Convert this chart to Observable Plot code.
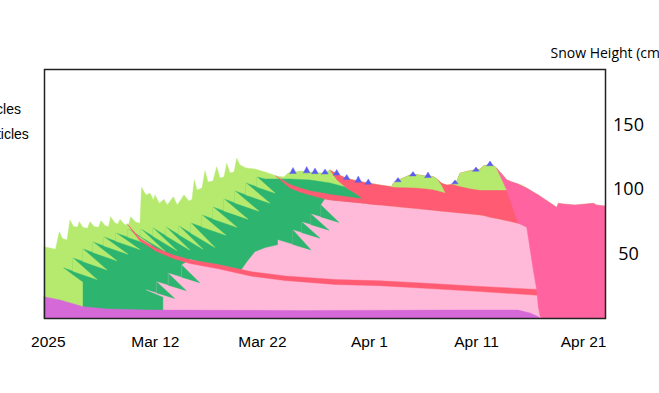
<!DOCTYPE html>
<html><head><meta charset="utf-8">
<script src="https://cdn.jsdelivr.net/npm/d3@7"></script>
<script src="https://cdn.jsdelivr.net/npm/@observablehq/plot@0.6"></script>
<style>
html,body{margin:0;padding:0;background:#fff;overflow:hidden;}
#chart svg{display:block;background:#fff;}
</style></head>
<body><div id="chart"></div>
<script>
// ---- Data: days since 2025-03-01 (UTC), heights in cm ----
const xTickDates = ["2025-03-02","2025-03-12","2025-03-22","2025-04-01","2025-04-11","2025-04-21"];
const xTickLabels = ["2025","Mar 12","Mar 22","Apr 1","Apr 11","Apr 21"];
const yTicks = [50,100,150];
const legendLabels = ["Precipitation particles","Decomposing and fragmented precipitation particles"];
const yTitle = "Snow Height (cm)";

// snow surface (total snow height)
const surfDay = [0.645,1.205,1.719,2.074,2.373,2.793,3.073,3.400,3.774,3.942,4.288,4.708,4.941,5.315,5.735,5.969,6.343,6.669,6.875,7.277,7.557,7.744,8.164,8.538,8.743,9.192,9.612,9.752,10.172,10.546,10.873,11.013,11.415,11.854,12.162,12.722,13.096,13.722,14.189,14.469,14.684,14.936,15.403,15.684,15.964,16.431,16.776,17.085,17.458,17.711,18.019,18.392,18.645,18.953,19.513,20.354,21.288,22.381,23.063,23.437,24.557,25.679,26.613,27.36,28.014,28.948,29.975,30.909,32.03,33.123,33.273,33.898,34.833,35.393,36.234,36.981,37.355,37.794,38.289,38.849,39.223,39.503,40.437,41.371,41.68,42.305,42.772,42.931,44.015,45.267,46.042,46.817,48.536,48.685,49.152,50.245,51.955,52.272,53.048];
const surfCm = [55.3,54.3,53.3,66.9,61.6,60.5,76.0,70.9,70.5,74.7,70.2,69.5,74.7,70.9,70.3,75.4,71.7,70.8,78.5,73.6,72.9,76.5,72.5,72.1,78.5,74.4,73.4,101.3,95.4,96.7,91.5,95.4,88.9,92.0,87.6,94.0,87.6,95.4,90.7,91.9,107.0,99.2,100.8,114.2,105.4,106.2,117.3,108.5,109.3,119.9,112.4,113.2,123.8,118.6,116.3,115.5,113.2,110.1,109.3,112.4,114.0,113.2,112.4,114.7,111.6,108.1,106.2,104.7,103.1,101.8,104.4,107.4,110.9,111.2,110.1,109.7,107.8,104.4,103.1,103.6,106.2,112.2,114.2,115.3,117.8,119.0,117.3,116.0,105.7,103.1,99.2,95.4,85.8,88.9,88.4,87.6,88.9,87.6,86.8];

// decomposing/fragmented particles (DF) body
const dfDay = [2.513,3.353,3.353,4.288,4.288,5.222,5.222,6.249,6.249,7.370,7.370,8.491,8.491,9.705,9.705,10.826,10.826,12.041,12.041,13.255,13.255,14.376,14.376,15.403,15.403,16.431,16.431,17.458,17.458,18.486,18.486,19.513,19.513,20.541,20.541,21.288,22.316,23.624,25.492,27.36,28.761,30.629];
const dfBottom = [38.8,33.6,33.6,27.9,0,0,0,0,0,0,0,0,0,0,0,0,0,0,0,0,0,0,0,0,0,0,0,0,0,0,0,0,0,0,0,0,0,0,0,0,0,0];
const dfTop = [38.8,36.3,46.5,43.8,53.5,50.8,58.9,55.9,62.8,59.5,65.9,62.6,69.0,62.9,69.0,63.4,69.8,63.7,70.5,64.5,71.3,65.7,73.6,70.6,79.8,76.8,86.0,83.0,92.2,89.2,98.5,95.4,104.7,101.6,109.3,107.8,107.8,107.8,107.0,104.7,101.6,92.0];

// precipitation-particle wedges remaining inside the DF body
const ppWedgeDay = [3.353,4.288,5.222,6.249,7.370,8.491,9.705,10.826,12.041,13.255,14.376,15.403,16.431,17.458,18.486,19.513,20.541];
const ppWedgeLow = [36.3,43.8,50.8,55.9,59.5,62.6,62.9,63.4,63.7,64.5,65.7,70.6,76.8,83.0,89.2,95.4,101.6];
const ppWedgeHigh = [46.5,53.5,58.9,62.8,65.9,69.0,69.0,69.8,70.5,71.3,73.6,79.8,86.0,92.2,98.5,104.7,109.3];
const ppWedgeEndDay = [5.595,6.529,7.463,8.491,9.612,10.733,11.948,13.068,14.283,15.497,16.617,17.645,18.673,19.700,20.728,21.755,22.222];
const ppWedgeEndCm = [29.8,37.3,44.3,49.4,53.0,56.1,51.8,52.2,52.6,53.3,54.6,64.1,70.3,76.6,82.8,89.0,96.8];

// rounded grains (RG) body
const rgDay = [10.238,11.172,11.172,11.788,11.788,12.256,12.256,13.507,13.507,14.283,15.375,16.926,18.953,19.607,20.354,21.288,22.502,22.502,23.904,23.904,24.745,24.745,25.585,25.585,26.52,26.52,26.893,27.36,32.03,36.7,41.371,44.949,45.734,47.07];
const rgBottom = [21.7,18.4,18.4,16.3,0,0,0,0,0,0,0,0,0,0,0,0,0,0,0,0,0,0,0,0,0,0,0,0,0,0,0,0,0,0];
const rgTop = [21.7,19.4,28.1,26.6,26.6,25.4,34.7,31.6,41.1,45.3,43.0,39.1,35.7,43.4,51.2,54.3,56.6,60.5,57.0,68.2,66.1,74.4,72.3,80.6,78.3,87.6,92.2,91.5,87.6,83.7,79.8,73.4,70.3,68.2];

// DF wedges remaining inside the RG body
const dfWedgeDay = [11.172,12.256,13.507,23.904,24.745,25.585,26.52];
const dfWedgeLow = [19.4,25.4,31.6,57.0,66.1,72.3,78.3];
const dfWedgeHigh = [28.1,34.7,41.1,68.2,74.4,80.6,87.6];
const dfWedgeEndDay = [12.853,13.937,15.188,25.585,26.426,27.267,28.2];
const dfWedgeEndCm = [15.2,21.2,27.4,52.8,61.9,68.1,74.1];

// lower melt-freeze crust
const crustDay = [8.426,8.958,9.612,11.172,12.722,14.283,16.926,20.046,23.156,27.827,32.03,36.7,41.371,46.817,47.07];
const crustTop = [72.9,67.8,61.6,53.9,48.8,45.1,41.4,35.8,32.6,29.8,28.8,26.8,24.5,22.1,22.0];
const crustBottom = [72.9,66.7,59.7,51.6,46.1,42.2,38.1,32.4,29.0,26.0,25.0,22.8,20.5,17.6,17.4];

// upper melt-freeze crust
const crust2Day = [22.288,23.624,24.557,25.492,26.893,27.36,28.761,30.629,32.03];
const crust2Top = [110.1,103.5,100.8,98.5,96.5,95.7,94.2,92.0,91.5];
const crust2Bottom = [110.1,100.8,97.7,95.3,92.2,91.5,90.3,88.8,87.6];

// melt forms near the surface
const meltDay = [27.36,28.014,28.948,29.975,30.909,32.03,33.123,33.273,33.898,34.833,35.393,36.234,36.981,37.355,37.794,38.289,38.849,39.223,39.503,40.437,41.371,41.68,42.305,42.772,42.931,44.015,45.014];
const meltBottom = [114.7,107.0,100.5,95.3,88.5,87.6,86.7,86.6,86.0,85.3,84.8,84.1,83.5,83.2,82.8,82.4,81.9,81.6,81.4,80.6,79.8,79.5,78.1,77.3,77.1,75.1,73.3];
const meltTop = [114.7,111.6,108.1,106.2,104.7,103.1,101.8,104.4,107.4,110.9,111.2,110.1,109.7,107.8,104.4,103.1,103.6,106.2,112.2,114.2,115.3,117.8,119.0,117.3,116.0,105.7,103.6];

// new snow on top of the melt layer
const newSnowADay = [33.123,33.273,33.898,34.833,35.393,36.234,36.981,37.355,37.794,38.102];
const newSnowALow = [101.8,101.6,101.4,101.2,100.9,100.4,99.6,98.8,97.8,97.1];
const newSnowAHigh = [101.8,104.4,107.4,110.9,111.2,110.1,109.7,107.8,102.3,97.1];
const newSnowBDay = [38.849,39.223,39.503,40.437,41.371,41.68,42.305,42.772,42.931,43.893];
const newSnowBLow = [103.6,102.7,102.1,100.4,99.2,99.2,99.2,99.2,99.2,99.2];
const newSnowBHigh = [103.6,106.2,112.2,114.2,115.3,117.8,119.0,117.3,116.0,106.8];

// surface hoar
const hoarDay = [23.904,25.184,25.959,26.893,27.986,28.92,30.003,30.938,33.712,35.113,36.514,39.036,40.998,42.306];
const hoarBase = [113.0,113.5,112.9,112.6,111.8,108.3,106.2,104.7,106.6,111.1,109.9,105.0,114.8,119.0];
const hoarPeak = [116.7,117.4,116.3,115.5,115.1,111.2,110.1,107.8,108.9,113.6,113.2,107.0,117.1,121.7];

// basal layer
const baseDay = [0.645,2.139,4.316,6.529,10.546,24.557,38.569,44.921,46.042,46.789,46.96];
const baseTop = [16.5,14.0,8.8,7.0,6.2,5.8,6.2,6.2,3.9,1.2,0];

// wet snow at the end of the season
const wetDay = [42.931,43.865,44.949,45.734,46.35,46.668,46.817,46.976,47.07,48.536,48.685,49.152,50.245,51.955,52.272,53.048];
const wetBottom = [116.0,99.2,73.4,70.3,37.2,21.7,8.8,1.6,0,0,0,0,0,0,0,0];
const wetTop = [116.0,107.1,103.7,100.8,97.7,96.1,95.4,94.5,94.0,85.8,88.9,88.4,87.6,88.9,87.6,86.8];

// ---- helpers ----
const T0 = Date.UTC(2025, 2, 1);
const toDate = d => new Date(T0 + d * 864e5);
const band = (days, lo, hi) => days.map((d, i) => ({x: toDate(d), y1: lo[i], y2: hi[i]}));
const wedges = (days, lo, hi, endDays, endCm) => days.flatMap((d, i) => [
  {id: i, x: toDate(d), y1: lo[i], y2: hi[i]},
  {id: i, x: toDate(endDays[i]), y1: endCm[i], y2: endCm[i]}
]);
const HW = 0.3;
const hoar = hoarDay.flatMap((d, i) => [
  {id: i, x: toDate(d - HW), y1: hoarBase[i] - 1, y2: hoarBase[i] - 1},
  {id: i, x: toDate(d), y1: hoarBase[i] - 1, y2: hoarPeak[i]},
  {id: i, x: toDate(d + HW), y1: hoarBase[i] - 1, y2: hoarBase[i] - 1}
]);
const surface = surfDay.map((d, i) => ({x: toDate(d), y1: 0, y2: surfCm[i]}));
const tickMap = new Map(xTickDates.map((s, i) => [+new Date(s + "T00:00Z"), xTickLabels[i]]));

const C = {PP:"#b5ea6f", DF:"#2db570", RG:"#ffbad9", MF:"#ff5b73", WET:"#ff64a1", BASE:"#d669d8", SH:"#5b5cf0"};
const A = (data, fill, z) => Plot.area(data, {x1: "x", y1: "y1", y2: "y2", fill, stroke: fill, strokeWidth: 0.4, z});
const sans = "Liberation Sans, Arial, sans-serif";
const open = "Open Sans, sans-serif";

const chart = Plot.plot({
  width: 659, height: 393,
  marginLeft: 44, marginRight: 54, marginTop: 69, marginBottom: 75,
  x: {type: "utc", domain: [toDate(0.645), toDate(53.048)], label: null},
  y: {domain: [0, 193], label: null},
  marks: [
    A(surface, C.PP),
    A(band(dfDay, dfBottom, dfTop), C.DF),
    A(wedges(ppWedgeDay, ppWedgeLow, ppWedgeHigh, ppWedgeEndDay, ppWedgeEndCm), C.PP, "id"),
    A(band(rgDay, rgBottom, rgTop), C.RG),
    A(wedges(dfWedgeDay, dfWedgeLow, dfWedgeHigh, dfWedgeEndDay, dfWedgeEndCm), C.DF, "id"),
    A(band(crustDay, crustBottom, crustTop), C.MF),
    A(band(crust2Day, crust2Bottom, crust2Top), C.MF),
    A(band(meltDay, meltBottom, meltTop), C.MF),
    A(band(newSnowADay, newSnowALow, newSnowAHigh), C.PP),
    A(band(newSnowBDay, newSnowBLow, newSnowBHigh), C.PP),
    A(hoar, C.SH, "id"),
    A(band(baseDay, baseDay.map(() => 0), baseTop), C.BASE),
    A(band(wetDay, wetBottom, wetTop), C.WET),
    Plot.frame({stroke: "#222", strokeWidth: 1.5}),
    Plot.axisX(xTickDates.map(s => new Date(s + "T00:00Z")), {
      tickSize: 0, tickPadding: 17, label: null,
      tickFormat: d => tickMap.get(+d),
      fontSize: 15.5, fontFamily: sans, fill: "#000"
    }),
    Plot.axisY(yTicks, {
      anchor: "right", tickSize: 0, tickPadding: 23, textAnchor: "middle", label: null,
      fontSize: 18, fontFamily: open, fill: "#000"
    }),
    Plot.text([yTitle], {frameAnchor: "top-right", dx: -55, dy: -15.5, textAnchor: "start", lineAnchor: "middle",
      fontSize: 14, fontFamily: open, fill: "#000"}),
    Plot.text([legendLabels[0]], {frameAnchor: "top-left", dx: -23.5, dy: 40, textAnchor: "end", lineAnchor: "middle",
      fontSize: 14, fontFamily: sans, fill: "#000"}),
    Plot.text([legendLabels[1]], {frameAnchor: "top-left", dx: -15.7, dy: 65, textAnchor: "end", lineAnchor: "middle",
      fontSize: 14, fontFamily: sans, fill: "#000"})
  ]
});
document.getElementById("chart").appendChild(chart);
</script>
</body></html>
